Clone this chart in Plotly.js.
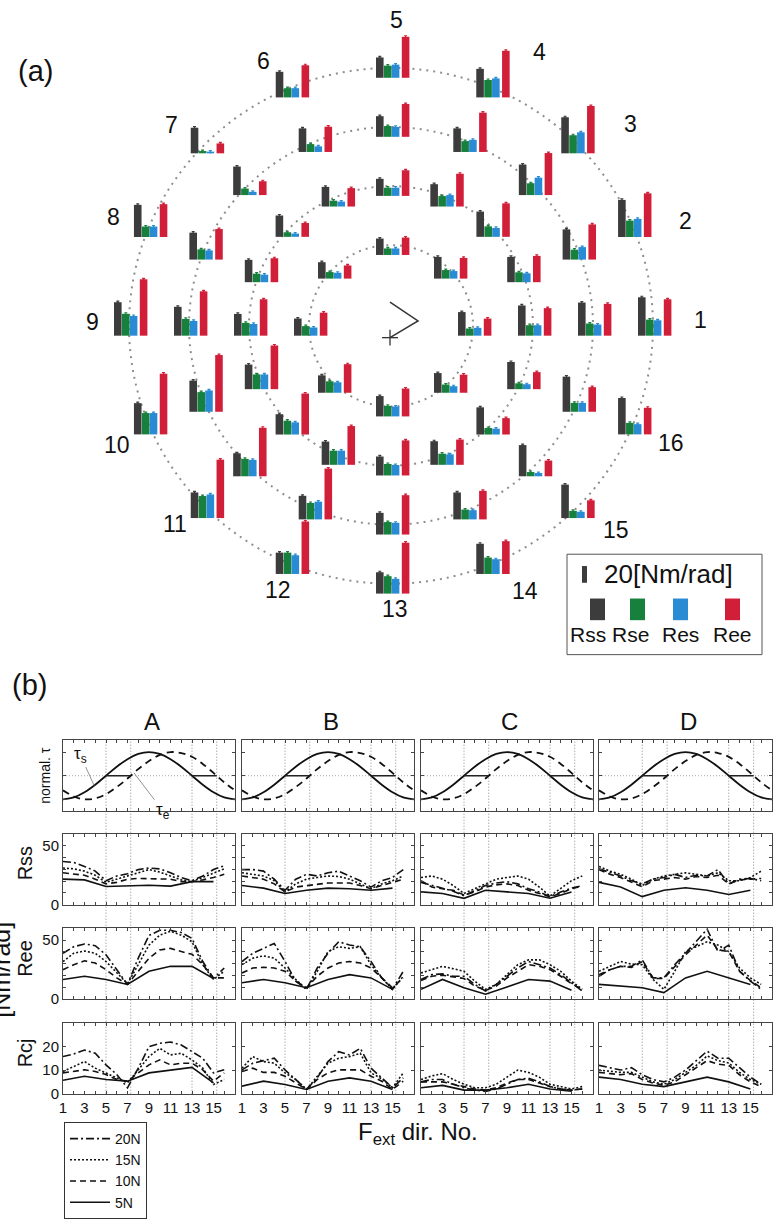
<!DOCTYPE html>
<html><head><meta charset="utf-8">
<script src="https://cdn.plot.ly/plotly-3.0.1.min.js"></script>
<style>html,body{margin:0;padding:0;background:#fff}</style>
</head><body><div id="chart" style="width:774px;height:1219px"></div>
<script>
// ================= DATA =================
const directions = [1,2,3,4,5,6,7,8,9,10,11,12,13,14,15,16];
const oddDirs = [1,3,5,7,9,11,13,15];
const dirs17 = [1,2,3,4,5,6,7,8,9,10,11,12,13,14,15,16,17];
const forceNames = ['20N','15N','10N','5N'];

// Panel (a): stiffness [Nm/rad] per Fext direction 1..16 (null = not measured)
const aRss20N = [45.9,44.3,43.1,34.1,24.3,30.6,30.6,38.4,40.0,37.3,30.6,25.5,25.5,36.1,40.0,43.5];
const aRss15N = [39.6,36.1,36.5,28.2,24.7,28.2,34.1,32.2,34.5,37.3,27.5,28.2,25.9,32.2,37.3,42.0];
const aRss10N = [36.1,30.2,30.2,26.7,20.4,23.5,25.5,26.7,26.0,29.4,24.3,27.8,22.7,28.2,32.5,32.5];
const aRss5N  = [28.2,null,25.9,null,19.6,null,19.6,null,20.5,null,20.8,null,24.3,null,23.5,null];
const aRse20N = [19.2,19.6,21.6,20.8,14.5,11.0,2.7,12.5,26.2,25.5,26.3,25.5,20.8,19.6,8.6,13.7];
const aRse15N = [14.5,11.8,14.1,12.9,12.9,9.4,7.8,12.2,20.0,23.5,20.8,19.6,14.9,11.8,5.1,10.6];
const aRse10N = [12.5,11.8,12.5,12.5,9.8,7.0,5.5,10.2,15.3,17.6,16.5,16.9,13.7,13.3,7.8,7.0];
const aRse5N  = [8.6,null,10.2,null,7.8,null,7.8,null,11.4,null,13.7,null,12.5,null,9.8,null];
const aRes20N = [18.4,21.6,25.1,22.7,15.7,11.0,2.0,12.5,23.5,25.5,28.2,22.4,17.6,17.6,7.5,12.2];
const aRes15N = [13.3,14.9,20.8,14.5,11.8,6.7,3.9,11.0,17.6,25.5,19.6,21.2,14.1,11.0,3.9,10.6];
const aRes10N = [12.5,10.6,10.6,13.7,9.8,5.9,3.9,9.0,14.0,17.6,14.5,16.9,12.5,12.5,7.0,5.9];
const aRes5N  = [9.4,null,9.0,null,7.8,null,7.0,null,9.8,null,12.5,null,11.8,null,7.8,null];
const aRee20N = [43.5,52.2,56.5,55.7,49.0,38.4,11.8,39.2,67.4,72.5,69.8,62.7,60.8,39.2,21.2,31.8];
const aRee15N = [38.0,42.0,50.2,47.0,39.2,30.2,16.5,36.5,53.0,67.8,58.0,60.8,47.0,34.1,18.8,29.4];
const aRee10N = [32.9,31.4,40.0,39.2,30.6,22.0,16.5,28.6,43.5,52.2,49.0,46.3,41.9,30.2,19.6,20.4];
const aRee5N  = [20.4,null,24.7,null,20.8,null,15.7,null,27.5,null,34.1,null,33.3,null,21.6,null];
const aErr = 1.2;           // typical error-bar half length [Nm/rad]
const scaleBarValue = 20;   // legend scale bar [Nm/rad]

// Panel (b): normalized torques (dir 1..17)
const tauS = [0,0.04,0.15,0.31,0.5,0.69,0.85,0.96,1,0.96,0.85,0.69,0.5,0.31,0.15,0.04,0];
const tauE = [0.19,0.06,0.0,0.02,0.11,0.26,0.44,0.64,0.81,0.94,1.0,0.98,0.9,0.75,0.56,0.36,0.19];
const tauLevel = 0.5;
const crossDirs = [5,7.3,13,15.3];

// Rss
const rssA_20N=[36.5,35.7,32.4,28.4,20.3,24.3,26.2,29.7,31.0,30.3,27.0,23.0,20.3,24.3,29.7,33.0];
const rssA_15N=[31.0,30.3,28.4,24.9,18.9,21.6,24.3,27.6,29.7,27.6,24.3,21.0,19.5,23.0,27.0,30.3];
const rssA_10N=[27.0,25.7,24.9,21.6,17.6,18.9,21.6,22.2,22.2,22.2,21.6,19.5,19.5,21.0,23.0,25.7];
const rssA_5N =[21.6,21.0,15.4,15.7,16.5,15.7,19.5,19.5];
const rssB_20N=[29.7,29.7,28.4,21.6,12.2,21.6,25.7,24.3,27.0,28.4,24.3,20.3,14.9,20.3,23.0,29.7];
const rssB_15N=[27.0,25.7,24.3,20.3,10.8,17.6,21.6,23.0,24.3,23.8,21.6,17.6,13.5,17.6,20.3,24.3];
const rssB_10N=[24.3,23.0,21.6,17.6,10.8,14.9,16.2,17.6,18.4,18.4,18.4,16.2,13.5,16.2,18.9,21.6];
const rssB_5N =[16.2,14.0,9.5,12.2,14.0,13.5,12.2,14.0];
const rssC_20N=[18.9,16.2,14.0,11.4,7.6,12.2,16.2,18.4,19.5,17.6,13.5,10.8,6.8,10.8,14.0,16.2];
const rssC_15N=[23.0,24.3,21.6,16.2,9.5,13.5,17.6,21.6,23.0,24.3,21.6,14.9,7.3,13.5,20.3,24.3];
const rssC_10N=[20.3,14.9,13.5,12.2,8.1,10.8,14.9,16.8,17.6,16.2,12.2,9.5,6.8,9.5,13.5,15.7];
const rssC_5N =[10.8,9.5,5.4,12.2,10.8,9.5,5.4,10.8];
const rssD_20N=[30.3,27.0,24.3,20.3,17.6,21.6,23.0,25.7,23.0,24.9,24.3,29.7,17.6,21.6,22.2,20.3];
const rssD_15N=[32.4,28.4,25.7,21.6,16.2,21.6,24.3,25.7,27.0,25.7,24.3,27.0,20.3,20.3,23.0,28.4];
const rssD_10N=[29.7,25.7,23.0,18.9,15.1,20.3,21.6,23.0,21.6,23.8,23.0,24.9,17.6,21.0,21.6,22.2];
const rssD_5N =[18.9,14.9,6.8,12.2,14.3,12.2,8.6,12.2];
// Ree
const reeA_20N=[38.9,44.4,46.7,45.3,37.5,25.0,12.5,34.7,54.0,58.3,58.3,56.4,51.4,31.9,17.5,26.4];
const reeA_15N=[31.9,38.9,40.8,38.9,31.9,22.2,13.0,29.2,45.8,54.2,57.5,54.2,48.6,29.2,16.7,23.6];
const reeA_10N=[25.0,29.2,32.5,30.6,25.0,18.0,12.5,23.6,34.7,41.7,43.0,40.3,38.0,29.2,18.0,18.0];
const reeA_5N =[16.7,19.4,16.7,12.5,23.6,27.8,27.8,17.5];
const reeB_20N=[31.9,38.9,43.0,47.2,31.9,15.3,8.3,26.4,38.9,48.6,45.8,44.4,31.9,18.0,8.3,23.6];
const reeB_15N=[29.2,34.7,36.7,34.7,26.4,16.7,8.3,23.6,40.3,44.4,43.0,44.4,29.2,18.0,8.3,19.4];
const reeB_10N=[22.2,26.4,27.0,26.4,23.6,15.3,9.7,19.4,26.4,30.6,31.9,30.6,26.4,18.0,9.7,18.0];
const reeB_5N =[13.9,16.7,13.9,9.7,16.7,20.8,18.0,8.3];
const reeC_20N=[16.7,20.8,21.4,19.4,19.4,12.5,6.9,12.5,19.4,26.4,31.9,29.2,26.4,20.8,13.9,6.9];
const reeC_15N=[22.2,25.0,27.8,25.8,23.6,15.3,8.3,12.5,20.8,29.2,33.3,33.3,29.2,23.6,15.3,8.3];
const reeC_10N=[15.8,19.4,20.3,18.6,17.5,11.1,7.5,11.1,18.0,23.6,29.2,27.8,25.0,19.4,13.1,8.3];
const reeC_5N =[8.3,16.7,9.7,4.2,10.3,16.7,15.3,7.5];
const reeD_20N=[19.4,25.0,27.8,27.8,33.3,18.0,18.0,29.2,38.9,48.6,59.2,40.3,45.8,23.6,15.3,8.3];
const reeD_15N=[23.6,27.8,31.9,29.7,29.2,16.7,8.3,23.6,40.3,44.4,48.6,45.8,40.3,26.4,18.0,12.5];
const reeD_10N=[20.8,25.0,27.8,26.9,31.9,17.5,17.5,27.8,37.5,45.8,54.2,41.7,40.3,23.6,15.8,9.7];
const reeD_5N =[12.5,11.1,9.7,5.6,18.0,23.6,18.0,12.5];
// Rcj
const rcjA_20N=[15.7,16.8,18.5,17.1,12.2,8.1,2.5,10.8,19.9,21.3,21.9,20.6,17.8,15.0,8.8,10.1];
const rcjA_15N=[9.4,11.5,13.6,10.8,8.8,6.7,4.6,10.1,15.7,19.2,16.4,17.1,14.3,10.8,3.9,6.0];
const rcjA_10N=[8.8,9.4,10.1,9.4,8.1,6.0,5.3,8.8,12.2,14.3,12.2,12.9,12.9,10.1,5.3,8.8];
const rcjA_5N =[5.7,7.4,6.0,5.3,8.8,10.1,11.1,4.6];
const rcjB_20N=[10.1,12.9,14.0,15.0,10.1,6.0,1.8,6.7,13.6,17.8,16.4,19.2,10.8,6.7,2.5,6.7];
const rcjB_15N=[10.8,15.7,13.6,12.9,8.8,6.0,1.8,7.4,12.9,15.0,15.7,17.1,8.8,6.3,2.5,8.8];
const rcjB_10N=[9.4,10.8,9.0,9.0,7.4,4.6,1.8,6.0,8.8,10.1,10.1,10.1,7.4,5.3,1.8,5.3];
const rcjB_5N =[3.2,5.3,3.9,1.8,5.3,6.7,5.3,1.8];
const rcjC_20N=[5.0,6.0,6.0,4.0,2.5,1.5,1.0,2.0,4.0,6.0,6.5,5.0,3.0,2.0,1.5,2.0];
const rcjC_15N=[6.0,7.5,8.5,6.0,4.0,2.5,2.5,4.0,7.0,10.0,9.0,7.0,4.0,3.0,2.0,3.0];
const rcjC_10N=[5.0,5.0,5.0,4.0,3.0,2.0,1.5,2.5,4.5,6.0,6.0,4.5,3.0,2.0,1.5,2.0];
const rcjC_5N =[2.5,3.5,1.5,1.5,2.5,4.0,2.0,1.0];
const rcjD_20N=[12.0,11.0,10.0,11.0,8.0,6.0,5.0,7.0,10.0,14.0,18.0,15.0,15.0,11.0,7.0,4.0];
const rcjD_15N=[10.0,9.5,9.0,9.0,7.0,5.0,4.0,6.0,9.0,12.0,16.0,14.0,13.0,9.0,6.0,4.0];
const rcjD_10N=[9.0,8.5,8.0,8.5,6.0,4.5,3.5,5.0,8.0,11.0,14.0,12.5,12.0,8.0,5.0,3.0];
const rcjD_5N =[7.0,6.0,4.0,3.0,5.0,7.0,5.0,2.0];

// ================= BUILD =================
const W = 774, H = 1219;
const FONT = 'Liberation Sans, Arial, Helvetica, sans-serif';
const S = 0.85;                       // px per Nm/rad in panel (a)
const ux = px => px / S, uy = py => -py / S;
const P = px => px / W, Q = py => 1 - py / H;

const barNames = ['Rss','Rse','Res','Ree'];
const barColors = ['#3c3c3c','#17803d','#2a8bd5','#d11f3a'];
const aTable = {
  Rss:[aRss5N,aRss10N,aRss15N,aRss20N], Rse:[aRse5N,aRse10N,aRse15N,aRse20N],
  Res:[aRes5N,aRes10N,aRes15N,aRes20N], Ree:[aRee5N,aRee10N,aRee15N,aRee20N]
};
const ringR = [82,142,202,262];
const CX = 393, CY = 341;             // chart baseline centre
const OX = 391, OY = 331;             // dotted ring centre
const barOff = [-13.2,-5.2,2.6,12.6], barW = 7.6;

const traces = [];
barNames.forEach((nm, bi) => {
  const xs = [], bs = [], ys = [];
  ringR.forEach((R, ri) => {
    const vals = aTable[nm][ri];
    directions.forEach((d, di) => {
      const v = vals[di]; if (v == null) return;
      const th = (d - 1) * Math.PI / 8;
      xs.push(ux(CX + R * Math.cos(th) + barOff[bi]));
      bs.push(uy(CY - R * Math.sin(th)));
      ys.push(v);
    });
  });
  traces.push({type:'bar', x:xs, y:ys, base:bs, width:barW / S, xaxis:'x', yaxis:'y',
    marker:{color:barColors[bi], line:{width:0}}, showlegend:false, hoverinfo:'skip',
    error_y:{type:'constant', value:aErr, width:1.5, thickness:1.2, color:barColors[bi]}});
});

const shapes = [], annotations = [];
const txt = (px, py, text, size, extra) => Object.assign({xref:'paper', yref:'paper', x:P(px), y:Q(py), text,
  showarrow:false, xanchor:'center', yanchor:'middle', font:{size, family:FONT, color:'#111'}}, extra || {});

ringR.forEach(R => shapes.push({type:'circle', xref:'x', yref:'y', layer:'below',
  x0:ux(OX - R), x1:ux(OX + R), y0:uy(OY + R), y1:uy(OY - R),
  line:{color:'#8e8e8e', width:2, dash:'2px,5px'}}));
// arm glyph at centre
shapes.push({type:'path', xref:'x', yref:'y',
  path:`M${ux(390)},${uy(307)} L${ux(418)},${uy(326)} L${ux(390)},${uy(343)}`,
  line:{color:'#333', width:1.5}});
shapes.push({type:'line', xref:'x', yref:'y', x0:ux(382), x1:ux(398), y0:uy(343), y1:uy(343), line:{color:'#333', width:1.3}});
shapes.push({type:'line', xref:'x', yref:'y', x0:ux(390), x1:ux(390), y0:uy(335), y1:uy(351), line:{color:'#333', width:1.3}});

// direction labels
const dirLabelPos = [[700,325],[685,224],[630,126],[539,53],[397,20],[263,62],[171,127],[113,220],
  [92,327],[117,452],[175,532],[278,599],[395,619],[525,600],[616,538],[671,450]];
directions.forEach((d, i) => annotations.push(txt(dirLabelPos[i][0], dirLabelPos[i][1], String(d), 23)));
annotations.push(txt(35, 72, '(a)', 29));
annotations.push(txt(29, 696, '(b)', 29));

// legend (a)
shapes.push({type:'rect', xref:'paper', yref:'paper', x0:P(567), x1:P(762), y0:Q(665), y1:Q(563), line:{color:'#555', width:1}, fillcolor:'white', layer:'below'});
shapes.push({type:'rect', xref:'x', yref:'y', x0:ux(582), x1:ux(587), y0:uy(592), y1:uy(592) + scaleBarValue, line:{width:0}, fillcolor:barColors[0]});
annotations.push(txt(602, 583, scaleBarValue + '[Nm/rad]', 26, {xanchor:'left'}));
const legSq = [[590,605],[630,645],[673,688],[725,740]];
const legTx = [588,630,680,732];
barNames.forEach((nm, i) => {
  shapes.push({type:'rect', xref:'paper', yref:'paper', x0:P(legSq[i][0]), x1:P(legSq[i][1]), y0:Q(630), y1:Q(608), line:{width:0}, fillcolor:barColors[i]});
  annotations.push(txt(legTx[i], 645, nm, 21));
});

// ---------- panel (b) ----------
const cols = ['A','B','C','D'];
const colL = [63,242,421,599], colR = [235,414,593,772];
const rowT = [752,847,943,1039], rowB = [824,919,1015,1111];
const rowRange = [[-0.25,1.25],[0,60],[0,60],[0,30]];
const rowTickV = [[0,1],[0,50],[0,50],[0,10,20]];
const rowMinor = [0.5,10,10,10];
const bTable = {
  Rss:{A:[rssA_20N,rssA_15N,rssA_10N,rssA_5N],B:[rssB_20N,rssB_15N,rssB_10N,rssB_5N],C:[rssC_20N,rssC_15N,rssC_10N,rssC_5N],D:[rssD_20N,rssD_15N,rssD_10N,rssD_5N]},
  Ree:{A:[reeA_20N,reeA_15N,reeA_10N,reeA_5N],B:[reeB_20N,reeB_15N,reeB_10N,reeB_5N],C:[reeC_20N,reeC_15N,reeC_10N,reeC_5N],D:[reeD_20N,reeD_15N,reeD_10N,reeD_5N]},
  Rcj:{A:[rcjA_20N,rcjA_15N,rcjA_10N,rcjA_5N],B:[rcjB_20N,rcjB_15N,rcjB_10N,rcjB_5N],C:[rcjC_20N,rcjC_15N,rcjC_10N,rcjC_5N],D:[rcjD_20N,rcjD_15N,rcjD_10N,rcjD_5N]}
};
const rowKeys = ['tau','Rss','Ree','Rcj'];
const forceDash = ['8px,3px,2px,3px','2px,2px','6px,4px','solid'];

const layout = {
  width:W, height:H, margin:{l:0,r:0,t:0,b:0}, paper_bgcolor:'white', plot_bgcolor:'rgba(0,0,0,0)',
  font:{family:FONT, color:'#111'}, barmode:'overlay', showlegend:true,
  xaxis:{domain:[0,1], range:[0, W / S], visible:false, fixedrange:true},
  yaxis:{domain:[0,1], range:[-H / S, 0], visible:false, fixedrange:true},
  legend:{x:P(64), y:Q(1140), xanchor:'left', yanchor:'top', bgcolor:'white', bordercolor:'#333', borderwidth:1,
    font:{size:14, family:FONT, color:'#111'}, tracegroupgap:0, itemwidth:40},
  shapes, annotations
};

rowKeys.forEach((rk, r) => {
  cols.forEach((cn, c) => {
    const idx = 2 + r * 4 + c, xa = 'x' + idx, ya = 'y' + idx;
    layout['xaxis' + idx] = {domain:[P(colL[c]), P(colR[c])], range:[1,17], anchor:ya,
      tickmode:'array', tickvals:oddDirs, showticklabels:r === 3, ticks:'inside', ticklen:3,
      minor:{dtick:1, tick0:1, ticks:'inside', ticklen:3, tickcolor:'#444'},
      tickcolor:'#444', mirror:'ticks', showline:true, linecolor:'#444', linewidth:1, showgrid:false,
      zeroline:false, tickfont:{size:15, family:FONT, color:'#111'}, fixedrange:true};
    layout['yaxis' + idx] = {domain:[Q(rowB[r]), Q(rowT[r])], range:rowRange[r], anchor:xa,
      tickmode:'array', tickvals:rowTickV[r], showticklabels:(c === 0 && r > 0), ticks:'inside', ticklen:3,
      minor:{dtick:rowMinor[r], tick0:0, ticks:'inside', ticklen:3, tickcolor:'#444'},
      tickcolor:'#444', mirror:'ticks', showline:true, linecolor:'#444', linewidth:1, showgrid:false,
      zeroline:false, tickfont:{size:15, family:FONT, color:'#111'}, fixedrange:true};
    if (rk === 'tau') {
      shapes.push({type:'line', xref:xa, yref:ya, x0:1, x1:17, y0:tauLevel, y1:tauLevel, layer:'below', line:{color:'#aaa', width:1, dash:'1px,2px'}});
      shapes.push({type:'line', xref:xa, yref:ya, x0:crossDirs[0], x1:crossDirs[1], y0:tauLevel, y1:tauLevel, line:{color:'#222', width:1.4}});
      shapes.push({type:'line', xref:xa, yref:ya, x0:crossDirs[2], x1:crossDirs[3], y0:tauLevel, y1:tauLevel, line:{color:'#222', width:1.4}});
      crossDirs.forEach(xd => shapes.push({type:'line', xref:xa, yref:'paper', x0:xd, x1:xd, y0:Q(rowB[3]), y1:Q(rowT[0]), layer:'below', line:{color:'#888', width:1, dash:'1px,2px'}}));
      traces.push({type:'scatter', mode:'lines', x:dirs17, y:tauS, xaxis:xa, yaxis:ya, line:{color:'#111', width:1.8, shape:'spline'}, showlegend:false, hoverinfo:'skip'});
      traces.push({type:'scatter', mode:'lines', x:dirs17, y:tauE, xaxis:xa, yaxis:ya, line:{color:'#111', width:1.8, shape:'spline', dash:'7px,5px'}, showlegend:false, hoverinfo:'skip'});
    } else {
      bTable[rk][cn].forEach((vals, fi) => {
        traces.push({type:'scatter', mode:'lines', name:forceNames[fi], legendgroup:forceNames[fi],
          x: fi === 3 ? oddDirs : directions, y: vals, xaxis:xa, yaxis:ya,
          line:{color:'#111', width:1.6, dash:forceDash[fi]},
          showlegend: (r === 1 && c === 0), hoverinfo:'skip'});
      });
    }
  });
  // row label
  if (rk === 'tau') annotations.push(txt(45, 788, 'normal. τ', 14, {textangle:-90}));
  else annotations.push(txt(25, (rowT[r] + rowB[r]) / 2 - 6, rk, 20, {textangle:-90}));
});
cols.forEach((cn, c) => annotations.push(txt((colL[c] + colR[c]) / 2 + 3, 733, cn, 24)));
annotations.push(txt(1, 985, '[Nm/rad]', 25, {textangle:-90}));
annotations.push(txt(418, 1151, 'F<sub>ext</sub> dir. No.', 24));
annotations.push({xref:'x2', yref:'y2', x:3.9, y:0.29, ax:-14, ay:-31, text:'τ<sub>s</sub>', showarrow:true, arrowhead:0, arrowwidth:0.8, arrowcolor:'#777', standoff:0, font:{size:17, family:FONT, color:'#111'}});
annotations.push({xref:'x2', yref:'y2', x:7.6, y:0.56, ax:29, ay:38, text:'τ<sub>e</sub>', showarrow:true, arrowhead:0, arrowwidth:0.8, arrowcolor:'#777', standoff:0, font:{size:17, family:FONT, color:'#111'}});

Plotly.newPlot('chart', traces, layout, {displayModeBar:false, staticPlot:true});
</script></body></html>
